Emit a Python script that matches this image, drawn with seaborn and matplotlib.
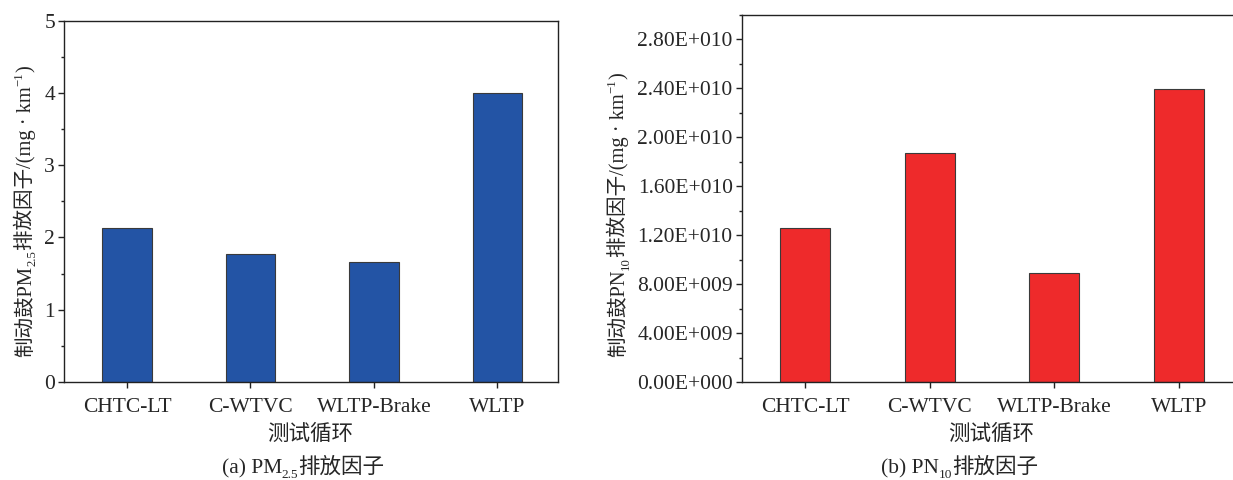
import matplotlib
matplotlib.use("Agg")
import matplotlib.pyplot as plt
import seaborn as sns
import pandas as pd
from matplotlib.ticker import MultipleLocator

# ---------------- data ----------------
cycles = ["CHTC-LT", "C-WTVC", "WLTP-Brake", "WLTP"]
pm25_values = [2.13, 1.77, 1.66, 4.00]
pn10_values = [1.255e10, 1.87e10, 0.89e10, 2.39e10]
pm_ticks = [0, 1, 2, 3, 4, 5]
pn_ticks = [0, 4e9, 8e9, 1.2e10, 1.6e10, 2.0e10, 2.4e10, 2.8e10]
pn_tick_labels = ["0.00E+000", "4.00E+009", "8.00E+009", "1.20E+010",
                  "1.60E+010", "2.00E+010", "2.40E+010", "2.80E+010"]
x_label = "测试循环"

sns.set_theme(style="ticks")
plt.rcParams["font.family"] = ["Liberation Serif", "Noto Sans CJK SC"]
plt.rcParams["axes.unicode_minus"] = False

W, H, DPI = 12.33, 4.8, 100
fig = plt.figure(figsize=(W, H), dpi=DPI)
PXW, PXH = W * DPI, H * DPI

FS = 15.5
YFS = 14.8
BLUE = "#2354A5"
RED = "#EE2A2B"


def axes_px(l, r, t, b):
    return fig.add_axes([l / PXW, 1 - b / PXH, (r - l) / PXW, (b - t) / PXH])


ax1 = axes_px(64, 558, 20.7, 382)
ax2 = axes_px(741.7, 1240, 14.7, 382)

df1 = pd.DataFrame({"cycle": cycles, "value": pm25_values})
df2 = pd.DataFrame({"cycle": cycles, "value": pn10_values})

sns.barplot(data=df1, x="cycle", y="value", ax=ax1, color=BLUE, saturation=1,
            width=0.4, edgecolor="#3a3a3a", linewidth=0.8)
sns.barplot(data=df2, x="cycle", y="value", ax=ax2, color=RED, saturation=1,
            width=0.4, edgecolor="#3a3a3a", linewidth=0.8)

for ax in (ax1, ax2):
    ax.set_xlim(-0.51, 3.49)
    ax.set_xlabel("")
    ax.set_ylabel("")
    for s in ax.spines.values():
        s.set_visible(True)
        s.set_linewidth(1.0)
        s.set_color("#222222")
    ax.tick_params(axis="both", which="major", direction="out", length=4.5,
                   width=1.0, color="#222222", labelsize=FS)
    ax.tick_params(axis="both", which="minor", direction="out", length=2.5,
                   width=1.0, color="#222222")
    ax.tick_params(axis="x", which="major", pad=7)
    ax.tick_params(axis="y", which="major", pad=2)
    ax.tick_params(top=False, right=False, which="both")
    ax.tick_params(axis="x", which="minor", bottom=False)
    ax.set_xticks(range(len(cycles)))
    ax.set_xticklabels(cycles, fontsize=FS)

ax1.set_ylim(0, 5)
ax1.set_yticks(pm_ticks)
ax1.set_yticklabels([str(v) for v in pm_ticks], fontsize=FS)
ax1.yaxis.set_minor_locator(MultipleLocator(0.5))

ax2.set_ylim(0, 3.0e10)
ax2.set_yticks(pn_ticks)
ax2.set_yticklabels(pn_tick_labels, fontsize=FS)
ax2.yaxis.set_minor_locator(MultipleLocator(2e9))

# x labels
fig.text(310 / PXW, 1 - 435 / PXH, x_label, fontsize=FS, ha="center", va="center")
fig.text(991 / PXW, 1 - 435 / PXH, x_label, fontsize=FS, ha="center", va="center")

# ---------------- rich text helper ----------------
renderer = fig.canvas.get_renderer()


def text_width(s, size):
    t = fig.text(0, 0, s, fontsize=size)
    w = t.get_window_extent(renderer).width
    t.remove()
    return w


def rich(pieces, cx, cy_base, rotation=0, size=FS):
    """pieces: list of (text, kind) with kind in {'n','sub','sup'}."""
    specs = []
    for s, kind in pieces:
        fs = size if kind == "n" else size * 0.62
        shift = 0 if kind == "n" else (-0.22 * size if kind == "sub" else 0.42 * size)
        shift_px = shift * DPI / 72
        specs.append((s, fs, shift_px, text_width(s, fs)))
    total = sum(sp[3] for sp in specs)
    if rotation == 0:
        x = cx - total / 2
        for s, fs, sh, w in specs:
            fig.text(x / PXW, 1 - (cy_base - sh) / PXH, s, fontsize=fs,
                     ha="left", va="baseline")
            x += w
    else:
        y = cy_base + total / 2
        for s, fs, sh, w in specs:
            fig.text((cx - sh) / PXW, 1 - y / PXH, s, fontsize=fs,
                     ha="left", va="baseline", rotation=90,
                     rotation_mode="anchor")
            y -= w


rich([("制动鼓PM", "n"), ("2.5", "sub"), ("排放因子/(mg · km", "n"),
      ("\u22121", "sup"), (")", "n")], 31, 211, rotation=90, size=YFS)
rich([("制动鼓PN", "n"), ("10", "sub"), ("排放因子/(mg · km", "n"),
      ("\u22121", "sup"), (")", "n")], 624, 215, rotation=90, size=YFS)

rich([("(a) PM", "n"), ("2.5", "sub"), ("排放因子", "n")], 303, 473)
rich([("(b) PN", "n"), ("10", "sub"), ("排放因子", "n")], 960, 473)

fig.savefig("out.png", dpi=DPI)
